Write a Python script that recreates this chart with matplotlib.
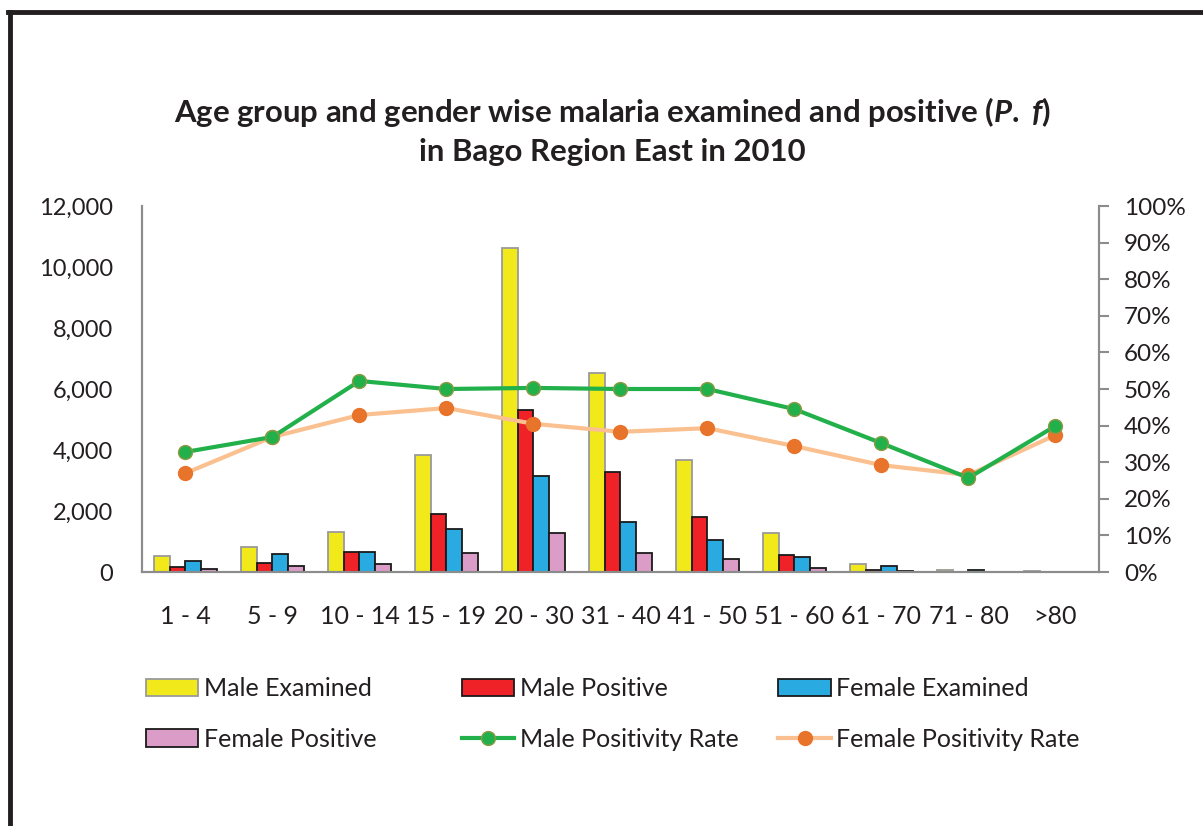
import numpy as np
import matplotlib
matplotlib.use("Agg")
import matplotlib.pyplot as plt
from matplotlib.lines import Line2D
from matplotlib.patches import Patch
from matplotlib.ticker import FuncFormatter, PercentFormatter

plt.rcParams['font.family'] = ['Lato', 'DejaVu Sans']
plt.rcParams['mathtext.fontset'] = 'custom'
plt.rcParams['mathtext.it'] = 'Lato:italic:bold'
plt.rcParams['mathtext.rm'] = 'Lato:bold'

age_groups = ['1 - 4', '5 - 9', '10 - 14', '15 - 19', '20 - 30', '31 - 40',
              '41 - 50', '51 - 60', '61 - 70', '71 - 80', '>80']

male_examined = [525, 810, 1300, 3840, 10610, 6510, 3670, 1270, 250, 75, 30]
male_positive = [160, 285, 665, 1910, 5310, 3280, 1800, 560, 70, 15, 10]
female_examined = [370, 580, 665, 1410, 3150, 1640, 1050, 500, 190, 55, 15]
female_positive = [90, 205, 262, 610, 1280, 620, 420, 140, 35, 10, 5]

male_rate = [32.8, 36.9, 52.2, 50.0, 50.3, 50.0, 50.0, 44.5, 35.2, 25.7, 39.9]
female_rate = [27.0, 36.9, 42.9, 44.8, 40.5, 38.3, 39.3, 34.4, 29.2, 26.5, 37.4]

fig = plt.figure(figsize=(12.03, 8.26), dpi=100)
ax = fig.add_axes([0.118, 0.3075, 0.7955, 0.4431])
ax2 = ax.twinx()

x = np.arange(len(age_groups))
w = 0.183
bar_specs = [
    (male_examined, '#F2E91A', '#9A9A9A', 'Male Examined'),
    (male_positive, '#EE2227', '#1A1A1A', 'Male Positive'),
    (female_examined, '#29ABE2', '#1A1A1A', 'Female Examined'),
    (female_positive, '#DB9DC8', '#1A1A1A', 'Female Positive'),
]
handles = {}
for i, (vals, fc, ec, lab) in enumerate(bar_specs):
    ax.bar(x + (i - 1.5) * w, vals, w, color=fc, edgecolor=ec, linewidth=1.3)
    handles[lab] = Patch(facecolor=fc, edgecolor=ec, linewidth=1.3)

ax2.plot(x, female_rate, color='#FBC08F', lw=3, marker='o', ms=10,
         mfc='#E8732A', mec='#E8732A', zorder=3)
ax2.plot(x, male_rate, color='#22B04B', lw=3, marker='o', ms=10,
         mfc='#22B04B', mec='#8C9A45', mew=1, zorder=4)
handles['Male Positivity Rate'] = Line2D([], [], color='#22B04B', lw=3, marker='o',
                                          ms=10, mfc='#22B04B', mec='#8C9A45')
handles['Female Positivity Rate'] = Line2D([], [], color='#FBC08F', lw=3, marker='o',
                                            ms=10, mfc='#E8732A', mec='#E8732A')

ax.set_xlim(-0.5, len(age_groups) - 0.5)
ax.set_ylim(0, 12000)
ax.set_yticks(np.arange(0, 12001, 2000))
ax.yaxis.set_major_formatter(FuncFormatter(lambda v, p: '{:,.0f}'.format(v)))
ax2.set_ylim(0, 100)
ax2.set_yticks(np.arange(0, 101, 10))
ax2.yaxis.set_major_formatter(PercentFormatter(decimals=0))

ax.set_xticks(x)
ax.set_xticklabels(age_groups)

for a in (ax, ax2):
    for s in a.spines.values():
        s.set_color('#8C8C8C')
        s.set_linewidth(1.5)
    a.spines['top'].set_visible(False)
ax.tick_params(axis='y', length=0, labelsize=17, pad=21, colors='#231F20')
ax.tick_params(axis='x', length=0, labelsize=18, pad=24, colors='#231F20')
ax2.tick_params(axis='y', length=7, width=1.5, color='#8C8C8C', labelsize=17.5,
                labelcolor='#231F20', pad=11)

fig.text(0.509, 0.864,
         r'Age group and gender wise malaria examined and positive ($\mathit{P.}$ $\mathit{f}$)',
         ha='center', va='center', fontsize=22.4, fontweight='bold', color='#231F20')
fig.text(0.509, 0.816, 'in Bago Region East in 2010', ha='center', va='center',
         fontsize=22.4, fontweight='bold', color='#231F20')

# legend laid out as 3 columns of 2 rows, read row by row
columns = [['Male Examined', 'Female Positive'],
           ['Male Positive', 'Male Positivity Rate'],
           ['Female Examined', 'Female Positivity Rate']]
col_x = [0.121, 0.384, 0.647]
for cx, labs in zip(col_x, columns):
    leg = fig.legend([handles[l] for l in labs], labs, loc='upper left',
                     bbox_to_anchor=(cx, 0.180), frameon=False, fontsize=18,
                     handlelength=2.1, handleheight=0.7, handletextpad=0.22,
                     labelspacing=1.1, borderaxespad=0, borderpad=0)
    for t in leg.get_texts():
        t.set_color('#231F20')

# outer frame
fig.add_artist(Line2D([0.008, 0.008], [0.0, 0.986], transform=fig.transFigure,
                      color='#231F20', lw=3.5))
fig.add_artist(Line2D([0.0065, 1.0], [0.986, 0.986], transform=fig.transFigure,
                      color='#231F20', lw=3.5))

fig.savefig('out.png', dpi=100)
